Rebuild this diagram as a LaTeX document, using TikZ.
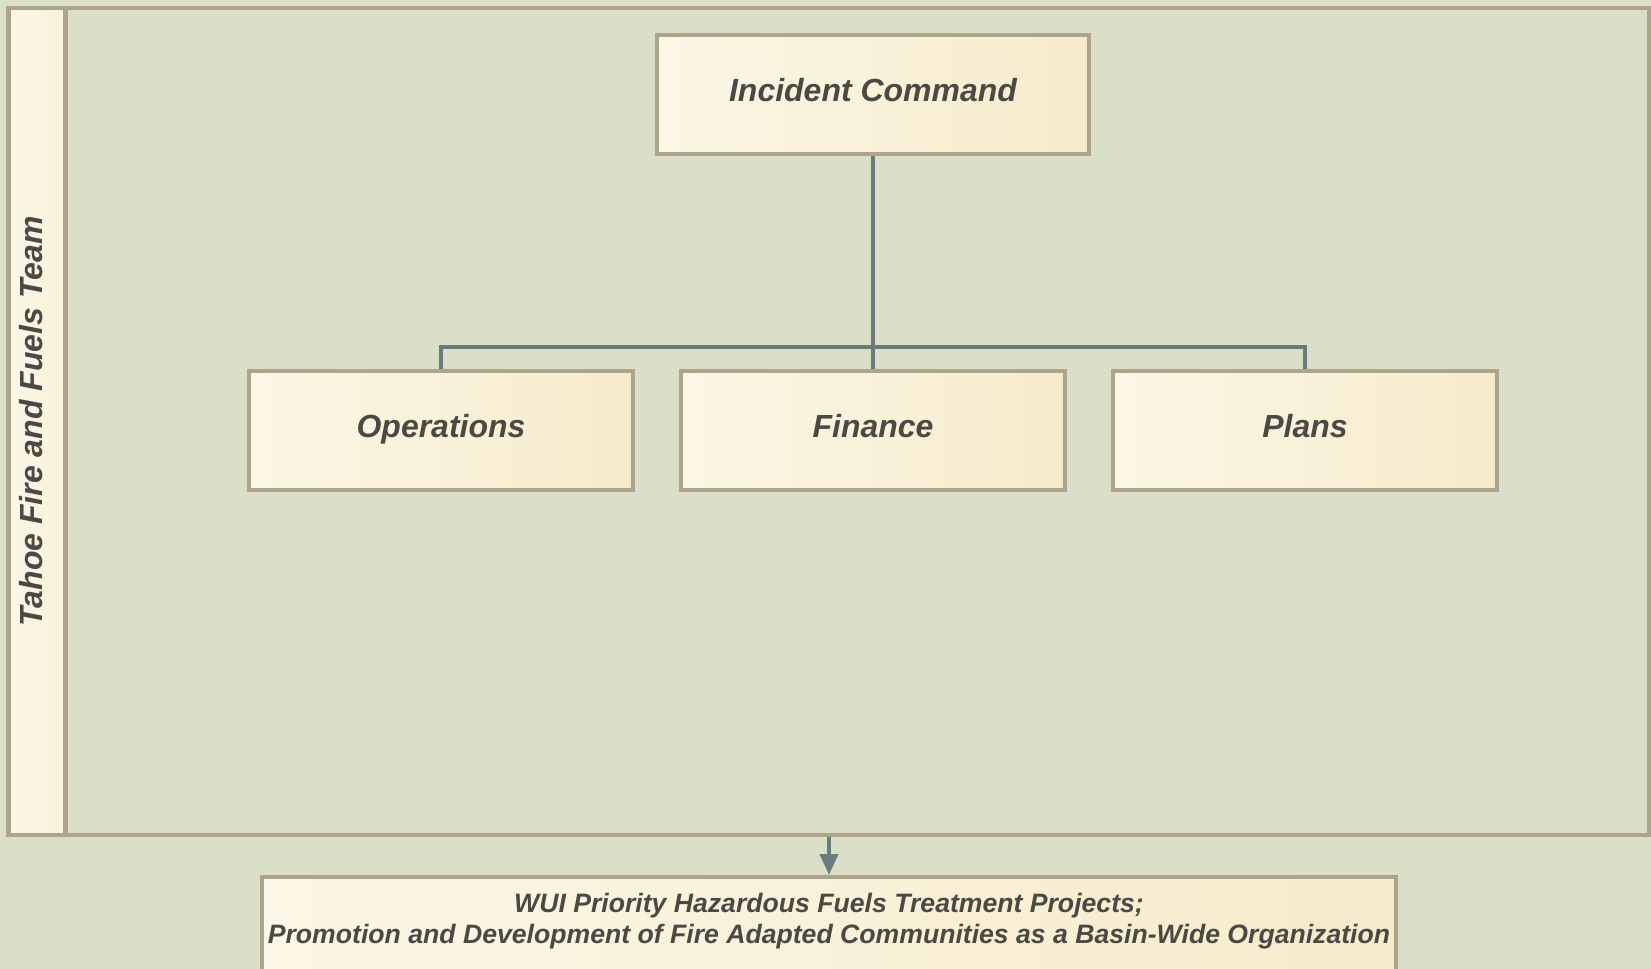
\documentclass[tikz,border=0pt]{standalone}
\usepackage{fontspec}
\setmainfont{Liberation Sans}
\usetikzlibrary{arrows.meta}
\definecolor{sage}{HTML}{DCDFC8}
\definecolor{khaki}{HTML}{ADA48C}
\definecolor{creamA}{HTML}{FBF6E6}
\definecolor{creamB}{HTML}{F6EBCB}
\definecolor{slate}{HTML}{6B7A7C}
\definecolor{ink}{HTML}{4A4943}

\begin{document}
\begin{tikzpicture}
	[x=0.02cm, y=-0.02cm,
	unit/.style={draw=khaki, line width=2.3pt, left color=creamA, right color=creamB, text=ink,
		font=\fontsize{18.2}{22}\selectfont\bfseries\itshape,
		minimum width=7.7cm, minimum height=2.38cm, inner sep=0pt, text height=0.45cm, text depth=0.18cm},
	link/.style={draw=slate, line width=2.3pt}]
	\useasboundingbox[fill=sage] (0,0) rectangle (1651,969);
	\node[draw=khaki, line width=2.3pt, minimum width=32.8cm, minimum height=16.56cm] (frame) at (829,421.5) {};
	\node[unit, rotate=90, left color=creamA, right color=creamA!60!creamB, minimum width=16.56cm, minimum height=1.14cm, text depth=0.24cm] (team) at (37,421.5) {Tahoe Fire and Fuels Team};
	\node[unit, minimum width=8.64cm] (ic) at (873,94.5) {Incident Command};
	\node[unit] (ops) at (441,430.5) {Operations};
	\node[unit] (fin) at (873,430.5) {Finance};
	\node[unit] (plans) at (1305,430.5) {Plans};
	\coordinate (split) at (873,347);
	\draw[link] (ic.south) -- (fin.north);
	\draw[link] (ops.north) |- (split) -| (plans.north);
	\node[unit, anchor=north, minimum width=22.7cm, minimum height=0pt, inner xsep=0.1cm, inner ysep=0.32cm,
		text height=, text depth=3cm, align=center, font=\fontsize{15.15}{18}\selectfont\bfseries\itshape] (goal) at (829,875)
		{WUI Priority Hazardous Fuels Treatment Projects;\\Promotion and Development of Fire Adapted Communities as a Basin-Wide Organization};
	\draw[link, -{Triangle[width=0.36cm, length=0.42cm]}] (frame.south) -- (goal.north);
	\end{tikzpicture}
\end{document}
